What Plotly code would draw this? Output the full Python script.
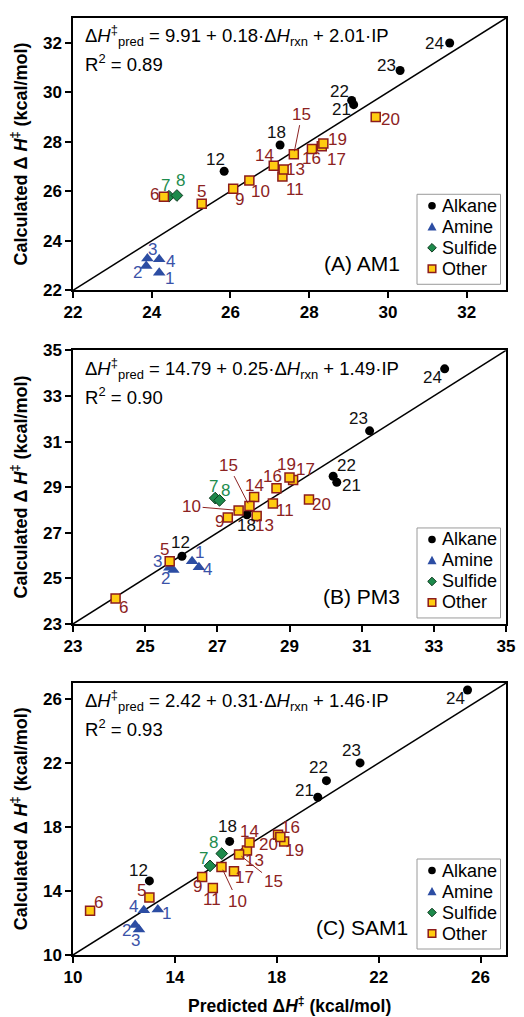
import plotly.graph_objects as go

# ---------------------------------------------------------------- data
ids = list(range(1, 25))
group_of = {
    "Alkane": [12, 18, 21, 22, 23, 24],
    "Amine": [1, 2, 3, 4],
    "Sulfide": [7, 8],
    "Other": [5, 6, 9, 10, 11, 13, 14, 15, 16, 17, 19, 20],
}
groups = ["Alkane", "Amine", "Sulfide", "Other"]

# (A) AM1: predicted vs calculated barrier (kcal/mol), ids 1..24
am1_pred = [24.19, 23.86, 23.89, 24.19, 25.27, 24.31, 24.44, 24.64, 26.07, 26.48,
            27.32, 25.84, 27.35, 27.10, 27.61, 28.07, 28.32, 27.26, 28.36, 29.69,
            29.13, 29.08, 30.31, 31.57]
am1_calc = [22.71, 22.98, 23.28, 23.25, 25.50, 25.78, 25.80, 25.83, 26.10, 26.44,
            26.60, 26.81, 26.88, 27.03, 27.50, 27.71, 27.82, 27.87, 27.93, 29.00,
            29.50, 29.67, 30.88, 31.99]

# (B) PM3
pm3_pred = [26.30, 25.78, 25.67, 26.49, 25.68, 24.18, 26.94, 27.06, 27.29, 27.59,
            28.54, 26.02, 28.09, 28.02, 27.89, 28.64, 29.10, 27.82, 29.00, 29.54,
            30.31, 30.21, 31.22, 33.30]
pm3_calc = [25.75, 25.37, 25.47, 25.49, 25.75, 24.12, 28.52, 28.42, 27.67, 27.98,
            28.28, 25.97, 27.73, 28.57, 28.17, 28.95, 29.31, 27.79, 29.42, 28.46,
            29.21, 29.48, 31.47, 34.19]

# (C) SAM1
sam1_pred = [13.33, 12.44, 12.59, 12.78, 13.00, 10.67, 15.38, 15.84, 15.07, 15.83,
             15.49, 13.00, 16.83, 16.93, 16.52, 18.05, 16.32, 16.15, 18.29, 18.14,
             19.61, 19.95, 21.27, 25.49]
sam1_calc = [12.85, 11.87, 11.60, 12.80, 13.59, 12.76, 15.57, 16.34, 14.88, 15.50,
             14.19, 14.63, 16.54, 17.04, 16.29, 17.52, 15.23, 17.10, 17.10, 17.37,
             19.86, 20.90, 22.01, 26.57]

equations = [
    ("9.91", "0.18", "2.01", "0.89"),
    ("14.79", "0.25", "1.49", "0.90"),
    ("2.42", "0.31", "1.46", "0.93"),
]
panel_names = ["(A) AM1", "(B) PM3", "(C) SAM1"]
axis_ranges = [[22, 33], [23, 35], [10, 27]]
tick_values = [[22, 24, 26, 28, 30, 32],
               [23, 25, 27, 29, 31, 33, 35],
               [10, 14, 18, 22, 26]]

# ---------------------------------------------------------------- label placement (pixel offsets from the marker)
am1_off = {1: (10, 6), 2: (-9, 6), 3: (5, -9), 4: (11, 2), 5: (0, -12), 6: (-9, -2),
           7: (-4, -11), 8: (4, -15), 9: (6, 11), 10: (11, 11), 11: (13, 13),
           12: (-9, -12), 13: (12, 0), 14: (-9, -10), 15: (8, -40), 16: (0, 10),
           17: (15, 13), 18: (-4, -12), 19: (14, -4), 20: (15, 2), 21: (-12, 5),
           22: (-12, -9), 23: (-14, -5), 24: (-15, 0)}
pm3_off = {1: (7, -9), 2: (-8, 9), 3: (-12, -6), 4: (9, 2), 5: (-5, -12), 6: (8, 9),
           7: (-2, -12), 8: (6, -10), 9: (-8, 4), 10: (-47, -4), 11: (12, 7),
           12: (-1, -14), 13: (8, 9), 14: (0, -11), 15: (-21, -41), 16: (-4, -12),
           17: (12, -11), 18: (0, 11), 19: (-3, -13), 20: (13, 5), 21: (15, 3),
           22: (13, -11), 23: (-11, -12), 24: (-12, 9)}
sam1_off = {1: (9, 4), 2: (-9, 5), 3: (-3, 11), 4: (-10, -4), 5: (-8, -7), 6: (8, -8),
            7: (-7, -7), 8: (-8, -11), 9: (-5, 10), 10: (16, 34), 11: (-1, 12),
            12: (-11, -10), 13: (8, 10), 14: (0, -11), 15: (34, 27), 16: (12, -7),
            17: (11, 6), 18: (-2, -15), 19: (10, 9), 20: (-12, 7), 21: (-13, -7),
            22: (-8, -13), 23: (-9, -12), 24: (-12, 9)}
leader = [{15}, {10, 15}, {10, 15}]

panels = [(am1_pred, am1_calc, am1_off), (pm3_pred, pm3_calc, pm3_off),
          (sam1_pred, sam1_calc, sam1_off)]

# ---------------------------------------------------------------- styles
FONT = "Liberation Sans, Arial, sans-serif"
RED = "#8C1C1C"
YELLOW = "#FFCC11"
BLUE = "#2C4DA3"
GREEN = "#1D8A4B"
style = {
    "Alkane": dict(symbol="circle", size=9, color="#000000", line=dict(width=0, color="#000000")),
    "Amine": dict(symbol="triangle-up", size=11, color=BLUE, line=dict(width=0, color=BLUE)),
    "Sulfide": dict(symbol="diamond", size=9, color=GREEN, line=dict(width=1, color="#0E3B1F")),
    "Other": dict(symbol="square", size=9, color=YELLOW, line=dict(width=1.5, color=RED)),
}
label_color = {"Alkane": "#111111", "Amine": "#3A52A8", "Sulfide": "#1E8C4E", "Other": "#8C2222"}
group_by_id = {i: g for g, members in group_of.items() for i in members}

# plot area geometry (paper fractions)
y_domains = [[0.7094, 1.0], [0.3533, 0.6453], [0.0, 0.2902]]


def legend_shapes(xa, ya):
    """Boxed key in the lower-right corner, sized in pixels from the panel corner."""
    common = dict(xref=xa + " domain", yref=ya + " domain", xsizemode="pixel",
                  ysizemode="pixel", xanchor=1, yanchor=0, layer="above")
    out = [dict(common, type="rect", x0=-89, x1=-5.5, y0=6, y1=96,
                fillcolor="white", line=dict(color="#9A9A9A", width=1))]
    cx = -74
    rows = [84.5, 63.5, 42.5, 21.5]
    # Alkane: filled circle
    cy = rows[0]
    out.append(dict(common, type="circle", x0=cx - 3.8, x1=cx + 3.8, y0=cy - 3.8, y1=cy + 3.8,
                    fillcolor="black", line=dict(width=0)))
    # Amine: triangle
    cy = rows[1]
    out.append(dict(common, type="path",
                    path=f"M {cx - 4.5},{cy - 3.8} L {cx + 4.5},{cy - 3.8} L {cx},{cy + 4.6} Z",
                    fillcolor=BLUE, line=dict(width=0)))
    # Sulfide: diamond
    cy = rows[2]
    out.append(dict(common, type="path",
                    path=f"M {cx},{cy - 4.3} L {cx + 4.3},{cy} L {cx},{cy + 4.3} L {cx - 4.3},{cy} Z",
                    fillcolor=GREEN, line=dict(width=1, color="#0E3B1F")))
    # Other: square
    cy = rows[3]
    out.append(dict(common, type="rect", x0=cx - 3.8, x1=cx + 3.8, y0=cy - 3.8, y1=cy + 3.8,
                    fillcolor=YELLOW, line=dict(width=1.5, color=RED)))
    texts = [dict(xref=xa + " domain", yref=ya + " domain", x=1, y=0, xshift=-66,
                  yshift=r, xanchor="left", yanchor="middle", showarrow=False, text=g,
                  font=dict(family=FONT, size=18, color="black"))
             for g, r in zip(groups, rows)]
    return out, texts


fig = go.Figure()
annotations = []
shapes = []

for p, (xs, ys, offs) in enumerate(panels):
    sfx = "" if p == 0 else str(p + 1)
    xa, ya = "x" + sfx, "y" + sfx
    lo, hi = axis_ranges[p]

    # 1:1 reference line
    fig.add_trace(go.Scatter(x=[lo, hi], y=[lo, hi], mode="lines",
                             line=dict(color="black", width=1.5),
                             showlegend=False, hoverinfo="skip",
                             xaxis=xa, yaxis=ya))

    for g in groups:
        members = group_of[g]
        st = style[g]
        fig.add_trace(go.Scatter(
            x=[xs[i - 1] for i in members], y=[ys[i - 1] for i in members],
            mode="markers", name=g, showlegend=False,
            marker=dict(symbol=st["symbol"], size=st["size"], color=st["color"], line=st["line"]),
            xaxis=xa, yaxis=ya,
        ))

    # point labels
    for i in ids:
        g = group_by_id[i]
        dx, dy = offs[i]
        base = dict(x=xs[i - 1], y=ys[i - 1], xref=xa, yref=ya, text=str(i),
                    font=dict(family=FONT, size=17, color=label_color[g]))
        if i in leader[p]:
            annotations.append(dict(base, showarrow=True, arrowhead=0, arrowwidth=1,
                                    arrowcolor=label_color[g], ax=dx, ay=dy, standoff=3))
        else:
            annotations.append(dict(base, showarrow=False, xshift=dx, yshift=-dy))

    # regression equation and R^2
    a, b, c, r2 = equations[p]
    annotations.append(dict(
        xref=xa + " domain", yref=ya + " domain", x=0.022, y=0.935,
        xanchor="left", yanchor="middle", showarrow=False,
        text=f"Δ<i>H</i><sup>‡</sup><sub>pred</sub> = {a} + {b}·Δ<i>H</i><sub>rxn</sub> + {c}·IP",
        font=dict(family=FONT, size=18.5, color="black")))
    annotations.append(dict(
        xref=xa + " domain", yref=ya + " domain", x=0.022, y=0.833,
        xanchor="left", yanchor="middle", showarrow=False,
        text=f"R<sup>2</sup> = {r2}",
        font=dict(family=FONT, size=18.5, color="black")))

    # panel name
    annotations.append(dict(
        xref=xa + " domain", yref=ya + " domain", x=0.667, y=0.10,
        xanchor="center", yanchor="middle", showarrow=False,
        text=panel_names[p], font=dict(family=FONT, size=21, color="black")))

    # y-axis title
    annotations.append(dict(
        xref="paper", yref=ya + " domain", x=-0.124, y=0.5,
        xanchor="center", yanchor="middle", showarrow=False, textangle=-90,
        text="<b>Calculated Δ <i>H</i><sup>‡</sup> (kcal/mol)</b>",
        font=dict(family=FONT, size=18, color="black")))

    # key
    ks, kt = legend_shapes(xa, ya)
    shapes.extend(ks)
    annotations.extend(kt)

    axis_common = dict(showgrid=False, zeroline=False, showline=True, linecolor="black",
                       linewidth=1.5, mirror=True, ticks="outside", ticklen=6,
                       tickwidth=1.5, tickcolor="black",
                       tickfont=dict(family=FONT, size=17, color="black", weight="bold"),
                       tickmode="array", tickvals=tick_values[p], range=[lo, hi])
    fig.layout["xaxis" + sfx] = dict(axis_common, domain=[0, 1], anchor=ya)
    fig.layout["yaxis" + sfx] = dict(axis_common, domain=y_domains[p], anchor=xa)

# x-axis title under the bottom panel
annotations.append(dict(
    xref="x3 domain", yref="y3 domain", x=0.5, y=-0.183,
    xanchor="center", yanchor="middle", showarrow=False,
    text="<b>Predicted Δ<i>H</i><sup>‡</sup> (kcal/mol)</b>",
    font=dict(family=FONT, size=17.5, color="black")))

fig.update_layout(
    width=524, height=1017,
    margin=dict(l=73, r=9, t=13, b=62),
    paper_bgcolor="white", plot_bgcolor="white",
    annotations=annotations, shapes=shapes,
    showlegend=False,
    font=dict(family=FONT, color="black"),
)

fig.write_html("out.html")
